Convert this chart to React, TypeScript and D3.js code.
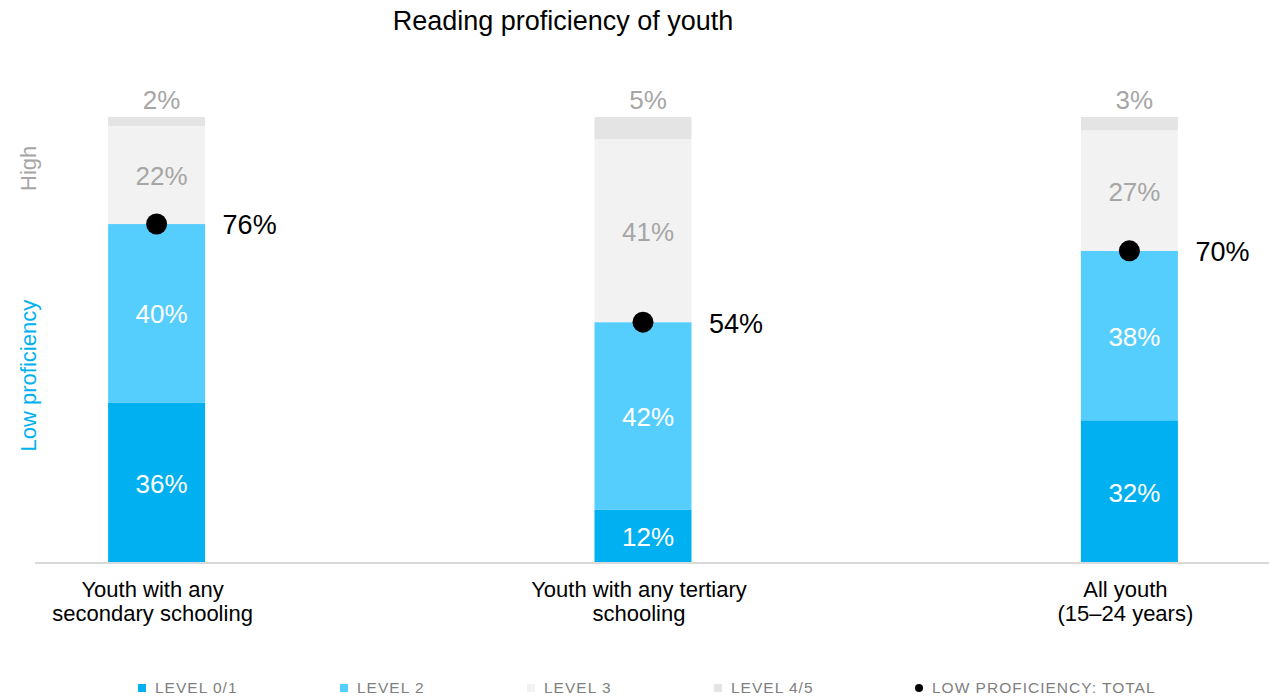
import React from "react";
import * as d3 from "d3";

const categories = ["Youth with any\nsecondary schooling", "Youth with any tertiary\nschooling", "All youth\n(15–24 years)"];
const level01 = [36, 12, 32];
const level2 = [40, 42, 38];
const level3 = [22, 41, 27];
const level45 = [2, 5, 3];
const lowTotal = [76, 54, 70];
const seriesNames = ["LEVEL 0/1", "LEVEL 2", "LEVEL 3", "LEVEL 4/5"];
const seriesColors = ["#00b0f0", "#56cefd", "#f2f2f2", "#e4e4e4"];
const seriesTextColors = ["#ffffff", "#ffffff", "#a6a6a6", "#a6a6a6"];
const legendNames = [...seriesNames, "LOW PROFICIENCY: TOTAL"];
const legendPos = [138, 340, 527, 714, 915];

const W = 1269;
const H = 696;
const FONT = "'Liberation Sans', Arial, Helvetica, sans-serif";

export default function App() {
  const x = d3.scalePoint<number>().domain([0, 1, 2]).range([35, 1251]).padding(0.25);
  const y = d3.scaleLinear().domain([0, 100]).range([563, 117]);
  const barW = 97;
  const rows = categories.map((c, i) => ({ i, v: [level01[i], level2[i], level3[i], level45[i]] }));
  const stack = d3.stack<any>().keys([0, 1, 2, 3] as any).value((d: any, k: any) => d.v[k]);
  const stacked = stack(rows);

  return (
    <svg width={W} height={H} style={{ position: "absolute", left: 0, top: 0, background: "#fff" }} fontFamily={FONT}>
      <text x={563} y={30} textAnchor="middle" fontSize={27} fill="#000">Reading proficiency of youth</text>

      {stacked.map((layer, si) => (
        <g key={si}>
          {layer.map((d: any, ci) => {
            const cx = x(ci)!;
            const y0 = y(d[0]);
            const y1 = y(d[1]);
            const isTop = si === 3;
            return (
              <g key={ci}>
                <rect x={cx - barW / 2} y={y1} width={barW} height={y0 - y1} fill={seriesColors[si]} />
                <text
                  x={cx + 5}
                  y={isTop ? y1 - 17 : (y0 + y1) / 2 + 1}
                  dy="0.35em"
                  textAnchor="middle"
                  fontSize={26}
                  fill={seriesTextColors[si]}
                >
                  {d.data.v[si]}%
                </text>
              </g>
            );
          })}
        </g>
      ))}

      <line x1={35} x2={1269} y1={y(0)} y2={y(0)} stroke="#d9d9d9" strokeWidth={2} />

      {lowTotal.map((v, i) => (
        <g key={i}>
          <circle cx={x(i)!} cy={y(v)} r={10.5} fill="#000" />
          <text x={x(i)! + 66} y={y(v) + 1} dy="0.35em" fontSize={27} fill="#000">{v}%</text>
        </g>
      ))}

      {categories.map((c, i) => (
        <text key={i} x={x(i)! - 4} y={597} textAnchor="middle" fontSize={22} fill="#000">
          {c.split("\n").map((line, li) => (
            <tspan key={li} x={x(i)! - 4} dy={li === 0 ? 0 : 24}>{line}</tspan>
          ))}
        </text>
      ))}

      <text transform={`translate(36,${y(88.5)}) rotate(-90)`} textAnchor="middle" fontSize={22} fill="#a6a6a6">High</text>
      <text transform={`translate(36,${y(42)}) rotate(-90)`} textAnchor="middle" fontSize={22} fill="#00b0f0">Low proficiency</text>

      {legendNames.map((name, i) => (
        <g key={i} transform={`translate(${legendPos[i]},688)`}>
          {i < 4 ? (
            <rect x={0} y={-4} width={8} height={8} fill={seriesColors[i]} />
          ) : (
            <circle cx={4} cy={0} r={4} fill="#000" />
          )}
          <text x={17} y={0} dy="0.35em" fontSize={15.5} letterSpacing={1} fill="#7f7f7f">{name}</text>
        </g>
      ))}
    </svg>
  );
}
